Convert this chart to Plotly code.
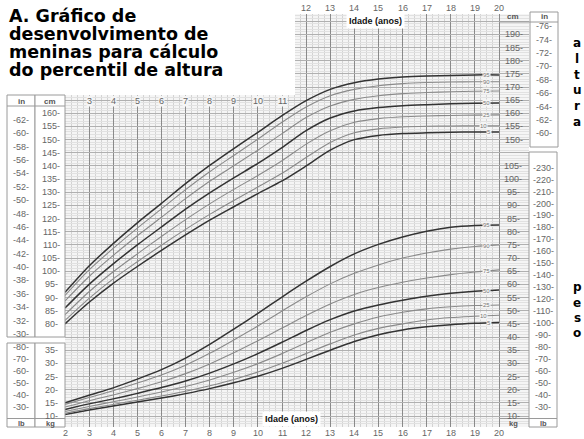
import plotly.graph_objects as go

W, H = 584, 439

# ---------------- data ----------------
ages = list(range(2, 21))
age_labels = [str(a) for a in ages]
top_ages = list(range(12, 21))
inner_ages = list(range(3, 12))

# stature (cm) percentiles
stature_p5 = [80.0, 88.2, 95.4, 101.8, 107.9, 113.8, 119.4, 124.5, 129.5, 134.3, 140.0, 146.0, 150.0, 151.6, 152.3, 152.6, 152.8, 152.9, 152.9]
stature_p10 = [81.3, 89.7, 97.1, 103.6, 109.9, 115.9, 121.6, 126.9, 132.0, 137.2, 143.2, 148.9, 152.6, 154.1, 154.8, 155.1, 155.2, 155.3, 155.3]
stature_p25 = [83.5, 92.2, 99.8, 106.6, 113.2, 119.6, 125.6, 131.1, 136.4, 142.0, 148.3, 153.4, 156.6, 158.0, 158.7, 159.0, 159.2, 159.3, 159.4]
stature_p50 = [86.0, 95.0, 102.8, 110.0, 116.8, 123.6, 129.8, 135.5, 141.0, 147.0, 153.4, 158.2, 160.9, 162.2, 162.9, 163.3, 163.6, 163.8, 163.9]
stature_p75 = [88.7, 98.0, 106.0, 113.5, 120.5, 127.6, 134.2, 140.1, 146.0, 152.3, 158.4, 162.8, 165.3, 166.7, 167.5, 167.9, 168.2, 168.4, 168.5]
stature_p90 = [90.8, 100.5, 108.7, 116.4, 123.7, 131.0, 137.8, 144.0, 150.2, 156.6, 162.4, 166.7, 169.1, 170.5, 171.3, 171.7, 171.9, 172.0, 172.0]
stature_p95 = [92.0, 102.0, 110.5, 118.4, 125.8, 133.3, 140.2, 146.6, 152.8, 159.1, 164.8, 169.1, 171.6, 173.0, 173.8, 174.2, 174.4, 174.6, 174.6]

# weight (kg) percentiles
weight_p5 = [10.6, 12.3, 13.8, 15.3, 16.8, 18.5, 20.4, 22.6, 25.1, 28.1, 31.5, 35.0, 38.3, 40.9, 42.7, 43.9, 44.7, 45.2, 45.5]
weight_p10 = [11.0, 12.8, 14.4, 16.0, 17.6, 19.4, 21.5, 23.9, 26.7, 30.0, 33.7, 37.4, 40.8, 43.3, 45.0, 46.5, 47.4, 47.9, 48.3]
weight_p25 = [11.7, 13.6, 15.4, 17.2, 19.1, 21.2, 23.7, 26.6, 29.9, 33.7, 37.8, 41.8, 45.0, 47.6, 49.4, 50.7, 51.5, 52.0, 52.2]
weight_p50 = [12.5, 14.6, 16.5, 18.6, 20.8, 23.3, 26.3, 29.8, 33.7, 38.0, 42.5, 46.6, 49.9, 52.2, 54.0, 55.5, 56.6, 57.4, 57.9]
weight_p75 = [13.4, 15.8, 18.0, 20.4, 23.0, 26.1, 29.8, 34.0, 38.6, 43.4, 48.2, 52.6, 56.2, 58.8, 60.8, 62.4, 63.7, 64.7, 65.5]
weight_p90 = [14.4, 17.0, 19.6, 22.5, 25.6, 29.3, 33.8, 38.9, 44.2, 49.9, 55.3, 60.2, 64.2, 67.4, 70.0, 71.9, 73.4, 74.4, 75.0]
weight_p95 = [15.0, 17.9, 20.7, 24.0, 27.6, 32.0, 37.2, 43.0, 49.0, 55.2, 61.2, 66.8, 71.6, 75.2, 78.0, 80.2, 81.7, 82.4, 82.6]

pct_names = ["5", "10", "25", "50", "75", "90", "95"]

in_left = list(range(30, 64, 2))
cm_left = list(range(80, 165, 5))
cm_right = list(range(150, 195, 5))
in_right = list(range(60, 78, 2))
kg_left = list(range(10, 40, 5))
lb_left = list(range(30, 90, 10))
kg_right = list(range(10, 110, 5))
lb_right = list(range(30, 240, 10))

title_lines = ["A. Gráfico de", "desenvolvimento de", "meninas para cálculo", "do percentil de altura"]
side_top = "altura"
side_bottom = "peso"
axis_title = "Idade (anos)"

# ---------------- geometry helpers ----------------
def PX(x):
    return x / W

def PY(y):
    return 1 - y / H

K = 2.632          # px per kg-unit
Y10 = 416.0        # pixel row of 10 kg
OFF = 35.0         # cm = kg-unit + 35 on the shared grid

def vval(py):
    return 10 + (Y10 - py) / K

X_LEFT, X_RIGHT = 65, 529
AGE0 = 2
PXYR = (499 - 65) / 18.0
age_max = AGE0 + (X_RIGHT - X_LEFT) / PXYR
y_lo, y_hi = vval(427), vval(14)

TICK_FONT = dict(family="Liberation Sans", size=9, color="#666666")
GRAY = "#9a9a9a"
BG = "#f5f5f5"

fig = go.Figure()

dark = "#333333"
light = "#8a8a8a"
stature_sets = [stature_p5, stature_p10, stature_p25, stature_p50, stature_p75, stature_p90, stature_p95]
weight_sets = [weight_p5, weight_p10, weight_p25, weight_p50, weight_p75, weight_p90, weight_p95]

def interp(xs, ys, x):
    for i in range(len(xs) - 1):
        if xs[i] <= x <= xs[i + 1]:
            t = (x - xs[i]) / (xs[i + 1] - xs[i])
            return ys[i] + t * (ys[i + 1] - ys[i])
    return ys[-1]

annotations = []

def ann(**kw):
    kw.setdefault("showarrow", False)
    kw.setdefault("xanchor", "center")
    kw.setdefault("yanchor", "middle")
    annotations.append(kw)

label_ages = {"5": 19.6, "10": 19.35, "25": 19.5, "50": 19.5, "75": 19.5, "90": 19.5, "95": 19.5}
for yref, sets in [("y2", stature_sets), ("y", weight_sets)]:
    for name, ys in zip(pct_names, sets):
        is_dark = name in ("5", "50", "95")
        fig.add_trace(go.Scatter(x=ages, y=ys, mode="lines", yaxis=yref,
                                 line=dict(color=dark if is_dark else light, width=1.5 if is_dark else 1.1,
                                           shape="spline", smoothing=0.8),
                                 hoverinfo="skip", showlegend=False))
        la = label_ages[name]
        ann(x=la, y=interp(ages, ys, la), xref="x", yref=yref,
            text=name, font=dict(family="Liberation Sans", size=6, color="#777"), bgcolor=BG, borderpad=0)

minor_x = [AGE0 + i * 0.25 for i in range(0, 18 * 4 + 1) if i % 4 != 0]

# ---------------- side scale labels ----------------
def side_labels(values, conv, yref, xc, fmt):
    for v in values:
        ann(x=PX(xc), y=conv(v), xref="paper", yref=yref, text=fmt.format(v), font=TICK_FONT)

side_labels(in_left, lambda v: v * 2.54, "y2", 21, "-{}-")
side_labels(cm_left, lambda v: v, "y2", 51, "{}-")
side_labels(cm_right, lambda v: v, "y2", 514, "{}-")
side_labels(in_right, lambda v: v * 2.54, "y2", 544, "-{}-")
side_labels(kg_left, lambda v: v, "y", 51, "{}-")
side_labels(lb_left, lambda v: v * 0.4536, "y", 21, "-{}-")
side_labels(kg_right, lambda v: v, "y", 513, "{}-")
side_labels(lb_right, lambda v: v * 0.4536, "y", 543, "-{}-")

# age labels: bottom, top, and the row under the title box
for a, t in zip(ages, age_labels):
    ann(x=a, y=PY(433), xref="x", yref="paper", text=t, font=TICK_FONT)
for a in top_ages:
    ann(x=a, y=PY(8), xref="x", yref="paper", text=str(a), font=TICK_FONT)
for a in inner_ages:
    ann(x=a, y=PY(101), xref="x", yref="paper", text=str(a), font=TICK_FONT, bgcolor=BG, borderpad=0)

# column headers / footers
def hdr(text, x, y, size=8):
    ann(x=PX(x), y=PY(y), xref="paper", yref="paper", text="<b>%s</b>" % text,
        font=dict(family="Liberation Sans", size=size, color="#555"))
hdr("in", 21, 101)
hdr("cm", 50, 101)
hdr("lb", 21, 423.5, 7.5)
hdr("kg", 50, 423.5, 7.5)
hdr("cm", 513, 17)
hdr("in", 544, 17)
hdr("kg", 513, 423.5, 7.5)
hdr("lb", 543, 423.5, 7.5)

# axis titles
for (tx, ty) in [(375, 21), (291, 419)]:
    ann(x=PX(tx), y=PY(ty), xref="paper", yref="paper", text=axis_title,
        font=dict(family="Liberation Sans", size=9, color="#111", weight="bold"), bgcolor="white", borderpad=2)

# title lines
for line, yy in zip(title_lines, [16, 34, 52, 70]):
    ann(x=PX(7), y=PY(yy), xref="paper", yref="paper", text=line, xanchor="left",
        font=dict(family="DejaVu Sans", size=17.5, color="#000", weight="bold"))

# vertical side words
for word, ys in [(side_top, [43, 59, 75, 90, 106, 122]), (side_bottom, [287, 303, 318, 333])]:
    for ch, yy in zip(word, ys):
        ann(x=PX(577), y=PY(yy), xref="paper", yref="paper", text=ch,
            font=dict(family="DejaVu Sans", size=12, color="#000", weight="bold"))

# ---------------- shapes ----------------
shapes = []
def rect(x0, y0, x1, y1, fill="white", line=GRAY):
    shapes.append(dict(type="rect", xref="paper", yref="paper", x0=PX(x0), x1=PX(x1), y0=PY(y1), y1=PY(y0),
                       fillcolor=fill, line=dict(color=line, width=1), layer="above"))
def hline(x0, x1, y):
    shapes.append(dict(type="line", xref="paper", yref="paper", x0=PX(x0), x1=PX(x1), y0=PY(y), y1=PY(y),
                       line=dict(color=GRAY, width=1), layer="above"))

rect(0, 0, 295, 95, fill="white", line="rgba(0,0,0,0)")
rect(7, 95, 35, 337)
rect(35, 95, 65, 337)
hline(7, 65, 106)
rect(7, 343, 35, 427)
rect(35, 343, 65, 427)
hline(7, 65, 418.5)
rect(530, 12, 558, 147)
hline(499, 558, 22)
rect(529, 152, 557, 427)
hline(499, 557, 418.5)

fig.update_layout(
    width=W, height=H,
    margin=dict(l=0, r=0, t=0, b=0, autoexpand=False),
    paper_bgcolor="white", plot_bgcolor=BG,
    showlegend=False,
    xaxis=dict(domain=[PX(X_LEFT), PX(X_RIGHT)], range=[AGE0, age_max], automargin=False,
               tickmode="array", tickvals=ages, showticklabels=False, ticks="",
               showgrid=True, gridcolor="#8a8a8a", gridwidth=1.4,
               zeroline=False, showline=False,
               minor=dict(tickmode="array", tickvals=minor_x, showgrid=True, gridcolor="#d3d3d3", gridwidth=0.7)),
    yaxis=dict(domain=[PY(427), PY(14)], range=[y_lo, y_hi], automargin=False,
               tickmode="linear", tick0=0, dtick=5,
               showticklabels=False, ticks="", showgrid=True, gridcolor="#b0b0b0", gridwidth=1,
               zeroline=False, showline=False,
               minor=dict(tick0=0, dtick=1, showgrid=True, gridcolor="#e1e1e1", gridwidth=0.5)),
    yaxis2=dict(overlaying="y", range=[y_lo + OFF, y_hi + OFF], visible=False, showgrid=False,
                automargin=False),
    annotations=annotations,
    shapes=shapes,
)

fig.write_html("out.html", config={"displayModeBar": False},
               post_script="document.body.style.margin='0px';document.body.style.overflow='hidden';")
